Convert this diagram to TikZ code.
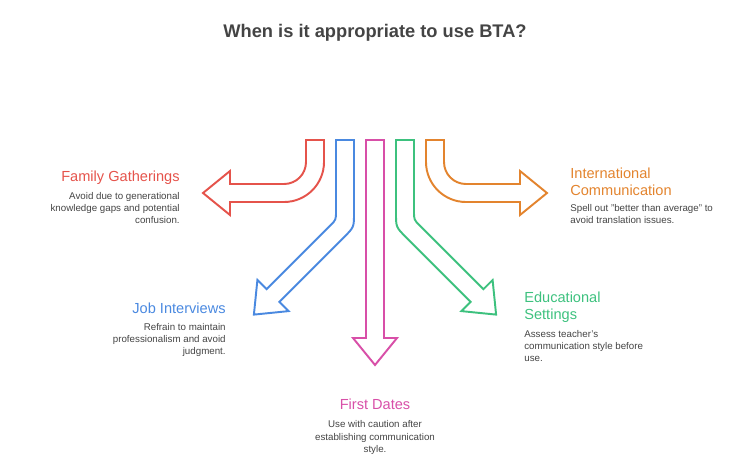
\documentclass[tikz,border=0pt]{standalone}
\usepackage{fontspec}
\setmainfont{Liberation Sans}
\usetikzlibrary{positioning}
\definecolor{famred}{RGB}{229,83,75}
\definecolor{jobblue}{RGB}{74,137,224}
\definecolor{datepink}{RGB}{216,79,168}
\definecolor{edugreen}{RGB}{61,193,126}
\definecolor{intorange}{RGB}{227,132,46}
\definecolor{txtgray}{RGB}{68,68,68}
\tikzset{
  bendarrow/.style={line width=1.1pt, fill=white},
  ttl/.style={inner sep=0pt, font=\fontsize{8.3}{9.6}\selectfont},
  desc/.style={inner sep=0pt, text=txtgray, font=\fontsize{5.55}{7}\selectfont},
  heading/.style={inner sep=0pt, text=txtgray, font=\bfseries\fontsize{10.4}{12}\selectfont},
}

\begin{document}
\begin{tikzpicture}[x=0.02cm, y=-0.02cm]
\useasboundingbox (0,0) rectangle (750,454);

\node[heading, anchor=base] (title) at (375,37) {When is it appropriate to use BTA?};

% Pfeile, von links nach rechts
\draw[bendarrow, draw=famred] (306,140) -- (324,140) -- (324,162)
  .. controls (324,184.1) and (306.1,202) .. (284,202) -- (230,202) -- (230,215)
  -- (203,193) -- (230,171) -- (230,184) -- (284,184)
  .. controls (296.2,184) and (306,174.2) .. (306,162) -- cycle;
\draw[bendarrow, draw=jobblue] (336,140) -- (354,140) -- (354,213)
  .. controls (354,227.2) .. (344,237.2) -- (279.4,301.8) -- (288.6,311.1)
  -- (253.9,314.6) -- (257.4,280) -- (266.6,289.2) -- (330,225.8)
  .. controls (336,219.8) .. (336,211) -- cycle;
\draw[bendarrow, draw=datepink] (366,140) -- (384,140) -- (384,338) -- (397,338)
  -- (375,365) -- (353,338) -- (366,338) -- cycle;
\draw[bendarrow, draw=edugreen] (414,140) -- (396,140) -- (396,213)
  .. controls (396,227.2) .. (406,237.2) -- (470.6,301.8) -- (461.4,311.1)
  -- (496.1,314.6) -- (492.6,280) -- (483.4,289.2) -- (420,225.8)
  .. controls (414,219.8) .. (414,211) -- cycle;
\draw[bendarrow, draw=intorange] (444,140) -- (426,140) -- (426,162)
  .. controls (426,184.1) and (443.9,202) .. (466,202) -- (520,202) -- (520,215)
  -- (547,193) -- (520,171) -- (520,184) -- (466,184)
  .. controls (453.8,184) and (444,174.2) .. (444,162) -- cycle;

% Beschriftungen
\node[ttl, text=famred, anchor=base east] (famttl) at (180,181) {Family Gatherings};
\node[desc, align=right, below=4.1pt of famttl.south east, anchor=north east] (famtxt)
  {Avoid due to generational\\ knowledge gaps and potential\\ confusion.};

\node[ttl, text=jobblue, anchor=base east] (jobttl) at (226,313) {Job Interviews};
\node[desc, align=right, below=5.3pt of jobttl.south east, anchor=north east] (jobtxt)
  {Refrain to maintain\\ professionalism and avoid\\ judgment.};

\node[ttl, text=datepink, anchor=base] (datettl) at (375,409) {First Dates};
\node[desc, align=center, below=6.2pt of datettl.south, anchor=north] (datetxt)
  {Use with caution after\\ establishing communication\\ style.};

\node[ttl, text=edugreen, align=left, anchor=north west] (eduttl) at (524,292) {Educational\\ Settings};
\node[desc, align=left, below=3.7pt of eduttl.south west, anchor=north west] (edutxt)
  {Assess teacher's\\ communication style before\\ use.};

\node[ttl, text=intorange, align=left, anchor=north west] (intttl) at (570,168) {International\\ Communication};
\node[desc, align=left, below=4.3pt of intttl.south west, anchor=north west] (inttxt)
  {Spell out "better than average" to\\ avoid translation issues.};
\end{tikzpicture}
\end{document}
